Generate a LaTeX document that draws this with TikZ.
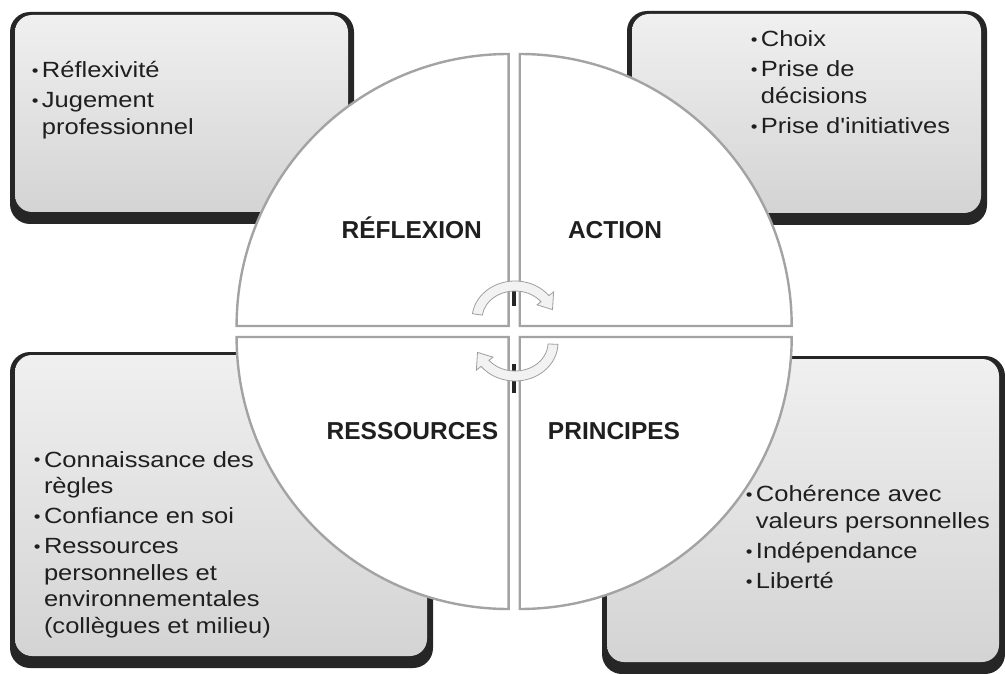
\documentclass[tikz,border=0pt]{standalone}
\usepackage{fontspec}
\setmainfont{Liberation Sans}
\newfontfamily\boxfont[FakeStretch=1.16]{Liberation Sans}
\usetikzlibrary{positioning}
\tikzset{box shadow/.style={fill=black!85,
                            rounded corners=20pt}}
\tikzset{box face/.style={top color=black!6,
                          bottom color=black!17,
                          rounded corners=17pt}}
\tikzset{quarter/.style={draw=black!36,
                         line width=2.4pt,
                         fill=white}}
\tikzset{quarter label/.style={font=\fontsize{24.5}{28}\selectfont\bfseries,
                               text=black!88,
                               anchor=base,
                               inner sep=0pt}}
\tikzset{item list/.style={anchor=base west,
                           inner sep=0pt,
                           text=black!88}}
\tikzset{cycle arrow/.style={draw=black!38,
                             line width=0.8pt,
                             fill=black!5}}
\newcommand{\puce}[1]{\par\hangindent=10pt\hangafter=1\noindent\makebox[10pt][l]{\raisebox{1.2pt}{\scalebox{0.75}{•}}}#1}
\newcommand{\liste}[2]{\parbox[t]{#1}{\boxfont\fontsize{22}{26.5}\selectfont\setlength{\parskip}{3.5pt}#2}}

\begin{document}
\begin{tikzpicture}[x=1pt,y=-1pt]
    \useasboundingbox (0,0) rectangle (1005,674);

    % boxes
    \foreach \xa/\ya/\xb/\yb in
      {
        10/12/354/224,
        627/11/987/225,
        10/352/433/668,
        602/356/1005/674
      }
    {
    \fill [box shadow] (\xa,\ya) rectangle (\xb,\yb);
    \shade [box face] (\xa+5,\ya+3) rectangle (\xb-6,\yb-12);
    }

    % quarters
    \foreach \cx/\cy/\a in
      {
        508.6/326/180,
        519.7/326/270,
        519.7/337/0,
        508.6/337/90
      }
    {
    \draw [quarter] (\cx,\cy) -- ++(\a:272) arc[start angle=\a, end angle=\a+90, radius=272] -- cycle;
    }

    % box texts
    \node [item list] (reflexion list) at (31.7,78)
      {\liste{300pt}{\puce{Réflexivité}\puce{Jugement\\professionnel}}};
    \node [item list] (action list) at (750.7,47)
      {\liste{230pt}{\puce{Choix}\puce{Prise de\\décisions}\puce{Prise d'initiatives}}};
    \node [item list] (ressources list) at (33.8,467)
      {\liste{300pt}{\puce{Connaissance des\\règles}\puce{Confiance en soi}\puce{Ressources\\personnelles et\\environnementales\\(collègues et milieu)}}};
    \node [item list] (principes list) at (745.7,501.7)
      {\liste{250pt}{\puce{Cohérence avec\\valeurs personnelles}\puce{Indépendance}\puce{Liberté}}};

    % quarter labels
    \node [quarter label] (reflexion) at (411.7,239) {RÉFLEXION};
    \node [quarter label] (action) at (615,239) {ACTION};
    \node [quarter label] (ressources) at (412.4,439) {RESSOURCES};
    \node [quarter label] (principes) at (614,439) {PRINCIPES};

    % dark marks in the gap
    \draw [line width=3.5pt,black!85] (514,283) -- (514,306);
    \draw [line width=3.5pt,black!85] (514,364) -- (514,393);

    % cycle arrows
    \begin{scope}[shift={(515,319)}]
    \path [cycle arrow] (188:43 and 38) arc[start angle=188, end angle=322, x radius=43, y radius=38]
      -- (322:49 and 44) -- (344:39 and 34) -- (322:28 and 23)
      -- (322:33 and 28) arc[start angle=322, end angle=188, x radius=33, y radius=28] -- cycle;
    \end{scope}
    \begin{scope}[shift={(515,343)}]
    \path [cycle arrow] (2:43 and 38) arc[start angle=2, end angle=142, x radius=43, y radius=38]
      -- (142:49 and 44) -- (164:39 and 34) -- (142:28 and 23)
      -- (142:33 and 28) arc[start angle=142, end angle=2, x radius=33, y radius=28] -- cycle;
    \end{scope}
\end{tikzpicture}
\end{document}
